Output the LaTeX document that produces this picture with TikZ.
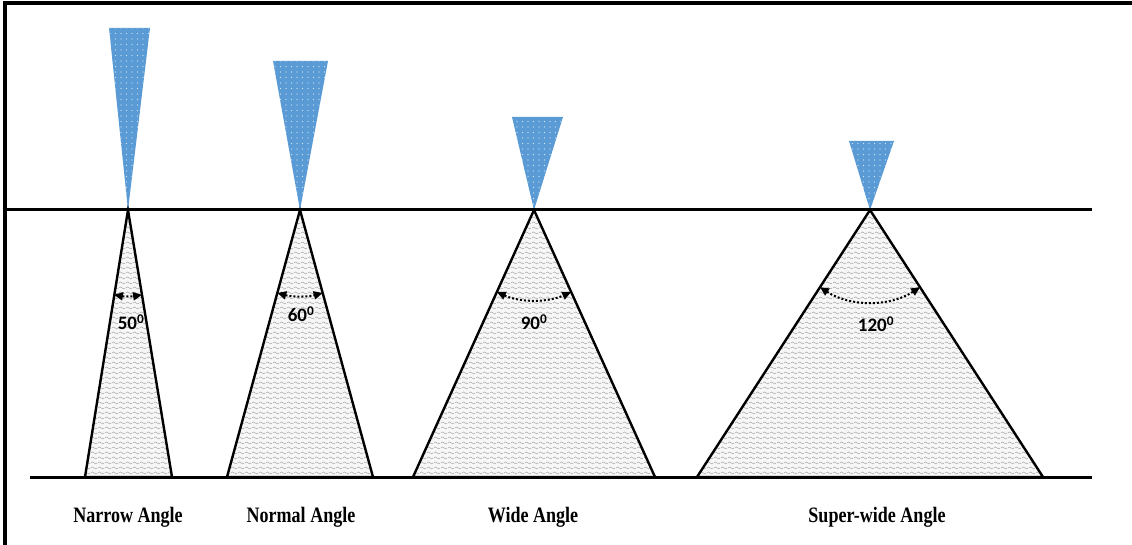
\documentclass[tikz,border=0pt]{standalone}
\usepackage{fontspec}
\setmainfont{Liberation Serif}
\newfontfamily\carlito{Carlito}
\usetikzlibrary{patterns,patterns.meta,arrows.meta}
\pgfdeclarepatternformonly{waves}{\pgfqpoint{0pt}{0pt}}{\pgfqpoint{7pt}{5pt}}{\pgfqpoint{7pt}{5pt}}{%
  \pgfsetlinewidth{0.5pt}%
  \pgfpathmoveto{\pgfqpoint{0pt}{2.5pt}}%
  \pgfpathcurveto{\pgfqpoint{1.2pt}{4pt}}{\pgfqpoint{2.3pt}{4pt}}{\pgfqpoint{3.5pt}{2.5pt}}%
  \pgfpathcurveto{\pgfqpoint{4.7pt}{1pt}}{\pgfqpoint{5.8pt}{1pt}}{\pgfqpoint{7pt}{2.5pt}}%
  \pgfusepath{stroke}}
\definecolor{nozzlec}{HTML}{5B9BD5}
\begin{document}
\begin{tikzpicture}[x=1pt,y=-1pt,
  beamfill/.style={fill=gray!6},
  beam/.style={draw=black, line width=2.4pt, line join=miter, pattern=waves, pattern color=gray!75},
  nozzle/.style={fill=nozzlec},
  nozzledots/.style={pattern={Dots[radius=0.6pt,distance=5.5pt]}, pattern color=white!75!nozzlec},
  ground/.style={line width=3pt},
  anglearc/.style={line width=2pt, dotted, {Triangle[length=9pt,width=8pt]}-{Triangle[length=9pt,width=8pt]}},
  caption/.style={font=\fontsize{22}{26}\selectfont\bfseries, xscale=0.82},
  deg/.style={font=\carlito\fontsize{19}{22}\selectfont\bfseries}]
\useasboundingbox (0,0) rectangle (1132,545);
% frame
\draw[line width=3.5pt] (5,545) -- (5,3) -- (1132,3);
% apexes
\coordinate (a1) at (128,210);
\coordinate (a2) at (300,210);
\coordinate (a3) at (534,210);
\coordinate (a4) at (870,210);
% beams
\fill[beamfill] (a1) -- (85,477) -- (172,477) -- cycle;
\fill[beamfill] (a2) -- (227,477) -- (373,477) -- cycle;
\fill[beamfill] (a3) -- (413,477) -- (655,477) -- cycle;
\fill[beamfill] (a4) -- (697,477) -- (1043,477) -- cycle;
\draw[beam] (a1) -- (85,477) -- (172,477) -- cycle;
\draw[beam] (a2) -- (227,477) -- (373,477) -- cycle;
\draw[beam] (a3) -- (413,477) -- (655,477) -- cycle;
\draw[beam] (a4) -- (697,477) -- (1043,477) -- cycle;
% nozzles
\foreach \p in {nozzle,nozzledots}{
  \fill[\p] (109,28) -- (150,28) -- (a1) -- cycle;
  \fill[\p] (273,61) -- (328,61) -- (a2) -- cycle;
  \fill[\p] (512,117) -- (563,117) -- (a3) -- cycle;
  \fill[\p] (849,141) -- (894,141) -- (a4) -- cycle;
}
% lines
\draw[ground] (5,210) -- (1092,210);
\draw[ground] (30,477) -- (1092,477);
% angle arcs
\draw[anglearc] (a1) ++(99.4:86) arc[start angle=99.4, end angle=80.6, radius=86];
\draw[anglearc] (a2) ++(105.3:86) arc[start angle=105.3, end angle=74.7, radius=86];
\draw[anglearc] (a3) ++(114.4:90) arc[start angle=114.4, end angle=65.6, radius=90];
\draw[anglearc] (a4) ++(123:92) arc[start angle=123, end angle=57, radius=92];
% degree labels
\node[deg] (d1) at (131,322) {50\textsuperscript{0}};
\node[deg] (d2) at (301,314) {60\textsuperscript{0}};
\node[deg] (d3) at (534,322) {90\textsuperscript{0}};
\node[deg] (d4) at (876,324) {120\textsuperscript{0}};
% captions
\node[caption] (c1) at (128,517) {Narrow Angle};
\node[caption] (c2) at (301,517) {Normal Angle};
\node[caption] (c3) at (533,517) {Wide Angle};
\node[caption] (c4) at (877,517) {Super-wide Angle};
\end{tikzpicture}
\end{document}
